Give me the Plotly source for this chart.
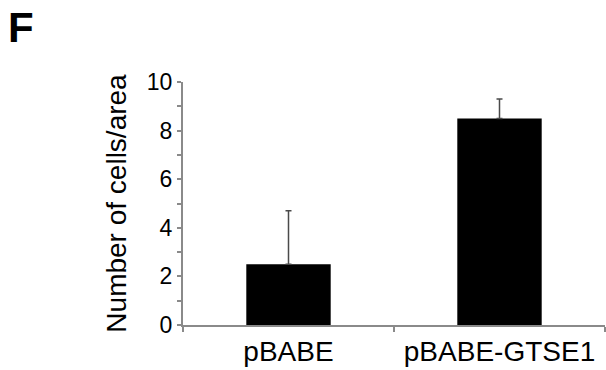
import plotly.graph_objects as go

categories = ["pBABE", "pBABE-GTSE1"]
values = [2.5, 8.5]
err_plus = [2.2, 0.8]
err_minus = [0, 0]
y_ticks = [0, 2, 4, 6, 8, 10]
y_title = "Number of cells/area"
panel_label = "F"

AX = "#8a8a8a"
FONT = "Liberation Sans, Arial, sans-serif"

L, R, T, B, W, H = 183, 1, 82, 45, 606, 370
pw, ph = W - L - R, H - T - B

fig = go.Figure()
fig.add_trace(go.Bar(
    x=categories, y=values,
    marker=dict(color="black", line=dict(width=0)),
    error_y=dict(type="data", symmetric=False, array=err_plus, arrayminus=err_minus,
                 color="#4a4a4a", thickness=1.5, width=3),
))

fig.update_layout(
    width=W, height=H,
    margin=dict(l=L, r=R, t=T, b=B),
    paper_bgcolor="white", plot_bgcolor="white",
    bargap=0.6,
    showlegend=False,
    font=dict(family=FONT, color="black"),
)
fig.add_annotation(
    text="<b>%s</b>" % panel_label, xref="paper", yref="paper",
    x=(6 - L) / pw, y=(ph + T - 2) / ph, xanchor="left", yanchor="top",
    showarrow=False, font=dict(size=42, family=FONT, color="black"),
)
fig.update_xaxes(
    type="category", range=[-0.5, 1.5],
    showline=True, linecolor=AX, linewidth=2,
    ticks="outside", tickson="boundaries", ticklen=5, tickcolor=AX, tickwidth=2,
    tickfont=dict(size=28, family=FONT, color="black"),
    showgrid=False, zeroline=False,
)
fig.update_yaxes(
    range=[0, 10], tickvals=y_ticks,
    showline=True, linecolor=AX, linewidth=2,
    ticks="outside", ticklen=4, tickcolor=AX, tickwidth=2,
    minor=dict(dtick=1, tick0=0, ticks="outside", ticklen=4, tickcolor=AX, tickwidth=2, showgrid=False),
    tickfont=dict(size=23, family=FONT, color="black"),
    showgrid=False, zeroline=False,
    title=dict(text=y_title, font=dict(size=28, family=FONT, color="black"), standoff=12),
)

fig.write_html("out.html")
